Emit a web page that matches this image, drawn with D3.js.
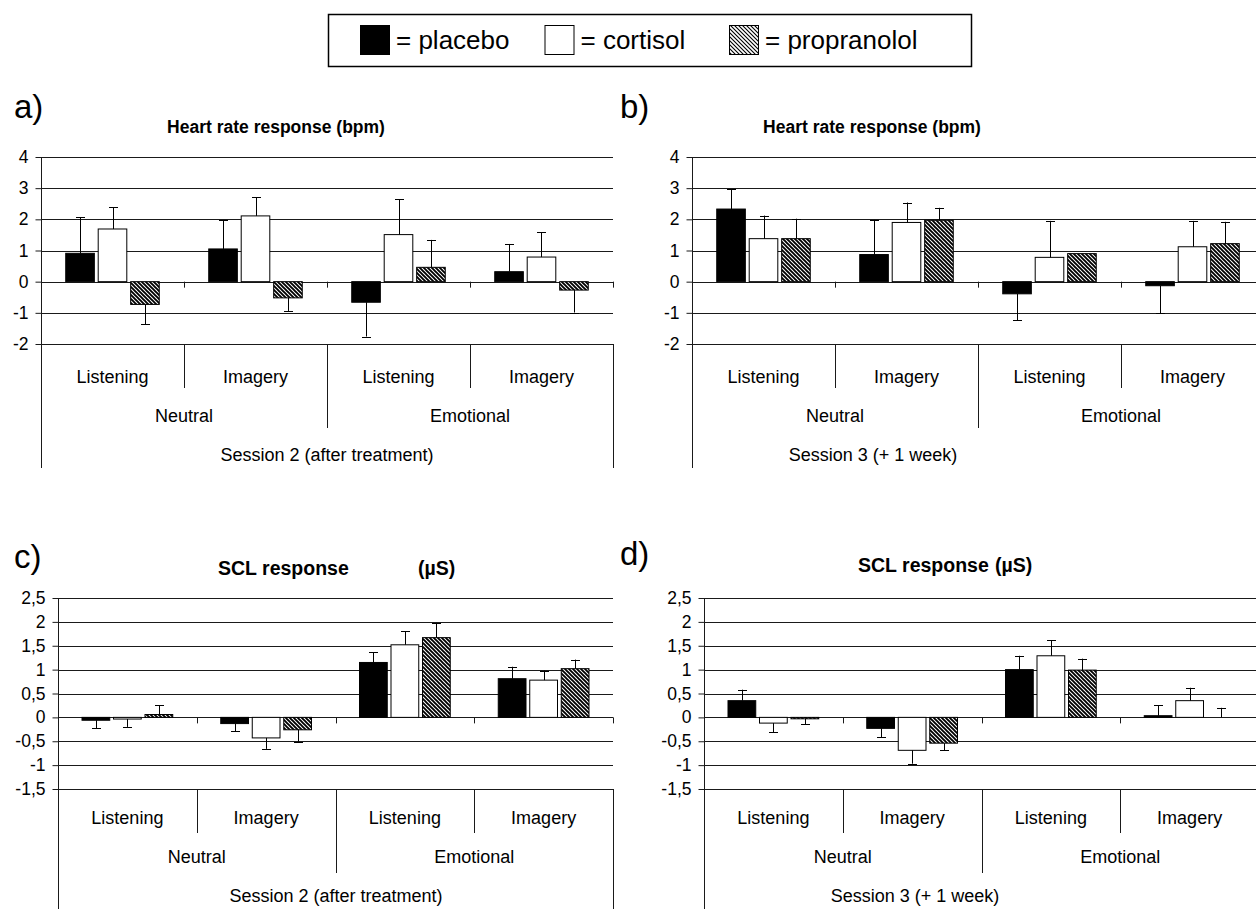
<!DOCTYPE html>
<html><head><meta charset="utf-8">
<script src="https://cdn.jsdelivr.net/npm/d3@7"></script>
<style>
body{margin:0;background:#fff}
svg text{font-family:"Liberation Sans",Arial,Helvetica,sans-serif;fill:#000}
</style>
</head><body>
<svg id="chart" width="1256" height="909"></svg>
<script>
// ---------- data ----------
const conditions = ["Listening", "Imagery", "Listening", "Imagery"];
const valences = ["Neutral", "Emotional"];
const treatments = ["placebo", "cortisol", "propranolol"];
const legendLabels = ["= placebo", "= cortisol", "= propranolol"];

const hrTicks = [-2, -1, 0, 1, 2, 3, 4];
const sclTicks = [-1.5, -1, -0.5, 0, 0.5, 1, 1.5, 2, 2.5];

// a) Heart rate, Session 2
const hrS2Placebo = [0.91, 1.05, -0.66, 0.32];
const hrS2Cortisol = [1.69, 2.11, 1.51, 0.79];
const hrS2Propranolol = [-0.73, -0.52, 0.46, -0.27];
const hrS2PlaceboErr = [1.16, 0.92, 1.10, 0.89];
const hrS2CortisolErr = [0.69, 0.60, 1.13, 0.80];
const hrS2PropranololErr = [0.64, 0.42, 0.88, 0.72];

// b) Heart rate, Session 3
const hrS3Placebo = [2.33, 0.87, -0.39, -0.13];
const hrS3Cortisol = [1.38, 1.90, 0.78, 1.12];
const hrS3Propranolol = [1.38, 1.97, 0.90, 1.22];
const hrS3PlaceboErr = [0.63, 1.11, 0.84, 0.89];
const hrS3CortisolErr = [0.74, 0.64, 1.17, 0.83];
const hrS3PropranololErr = [0.64, 0.40, 0, 0.70];

// c) SCL, Session 2
const sclS2Placebo = [-0.06, -0.13, 1.15, 0.81];
const sclS2Cortisol = [-0.035, -0.43, 1.52, 0.78];
const sclS2Propranolol = [0.06, -0.26, 1.67, 1.02];
const sclS2PlaceboErr = [0.17, 0.16, 0.21, 0.25];
const sclS2CortisolErr = [0.165, 0.23, 0.28, 0.20];
const sclS2PropranololErr = [0.19, 0.25, 0.31, 0.19];

// d) SCL, Session 3
const sclS3Placebo = [0.35, -0.23, 1.00, 0.035];
const sclS3Cortisol = [-0.12, -0.69, 1.29, 0.35];
const sclS3Propranolol = [-0.03, -0.54, 0.99, 0.0];
const sclS3PlaceboErr = [0.23, 0.19, 0.29, 0.215];
const sclS3CortisolErr = [0.19, 0.28, 0.32, 0.27];
const sclS3PropranololErr = [0.11, 0.15, 0.24, 0.20];

// ---------- panels ----------
const panels = [
  { letter: "a)", title: "Heart rate response (bpm)", unit: null, session: "Session 2 (after treatment)",
    values: [hrS2Placebo, hrS2Cortisol, hrS2Propranolol], errors: [hrS2PlaceboErr, hrS2CortisolErr, hrS2PropranololErr],
    ticks: hrTicks, domain: [-2, 4],
    L: { x0: 41, x1: 613, yTop: 157, yBot: 344, boxBot: 468, letterX: 14, letterY: 118, titleX: 276, titleY: 133, titleSize: 17.5,
         row1: 39, row2: 78, row3: 117, div1: 44, div2: 84, sessionX: 327 } },
  { letter: "b)", title: "Heart rate response (bpm)", unit: null, session: "Session 3 (+ 1 week)",
    values: [hrS3Placebo, hrS3Cortisol, hrS3Propranolol], errors: [hrS3PlaceboErr, hrS3CortisolErr, hrS3PropranololErr],
    ticks: hrTicks, domain: [-2, 4],
    L: { x0: 692, x1: 1264, yTop: 157, yBot: 344, boxBot: 468, letterX: 620, letterY: 118, titleX: 872, titleY: 133, titleSize: 17.5,
         row1: 39, row2: 78, row3: 117, div1: 44, div2: 84, sessionX: 873 } },
  { letter: "c)", title: "SCL response", unit: "(µS)", session: "Session 2 (after treatment)",
    values: [sclS2Placebo, sclS2Cortisol, sclS2Propranolol], errors: [sclS2PlaceboErr, sclS2CortisolErr, sclS2PropranololErr],
    ticks: sclTicks, domain: [-1.5, 2.5],
    L: { x0: 58, x1: 613, yTop: 598, yBot: 789, boxBot: 920, letterX: 14, letterY: 568, titleX: 218, titleY: 575, unitX: 418, titleSize: 19.5,
         row1: 35, row2: 74, row3: 113, div1: 44, div2: 84, sessionX: 336 } },
  { letter: "d)", title: "SCL response", unit: "(µS)", session: "Session 3 (+ 1 week)",
    values: [sclS3Placebo, sclS3Cortisol, sclS3Propranolol], errors: [sclS3PlaceboErr, sclS3CortisolErr, sclS3PropranololErr],
    ticks: sclTicks, domain: [-1.5, 2.5],
    L: { x0: 704, x1: 1259, yTop: 598, yBot: 789, boxBot: 920, letterX: 620, letterY: 565, titleX: 858, titleY: 572, unitX: 995, titleSize: 19.5,
         row1: 35, row2: 74, row3: 113, div1: 44, div2: 84, sessionX: 915 } }
];

const svg = d3.select("#chart");
const defs = svg.append("defs");
function makeHatch(id, sw) {
  const p = defs.append("pattern").attr("id", id).attr("patternUnits", "userSpaceOnUse")
    .attr("width", 4).attr("height", 4);
  p.append("rect").attr("width", 4).attr("height", 4).attr("fill", "#fff");
  p.append("path").attr("d", "M-1,-1L5,5M-1,3L1,5M3,-1L5,1")
    .attr("stroke", "#000").attr("stroke-width", sw).attr("fill", "none");
}
makeHatch("hatch", 1.9);
makeHatch("hatchLegend", 1.1);

const fills = ["#000", "#fff", "url(#hatch)"];
const fmt = d => String(d).replace(".", ",");
const lineColor = "#1a1a1a";

function drawPanel(p) {
  const L = p.L;
  const g = svg.append("g");
  const x = d3.scaleBand().domain(d3.range(conditions.length)).range([L.x0, L.x1]);
  const bw = x.bandwidth();
  const barW = bw * 0.2, gap = bw * 0.027;
  const clusterW = 3 * barW + 2 * gap;
  const xi = d3.scaleBand().domain(treatments).range([0, clusterW])
    .paddingInner(gap / (barW + gap)).paddingOuter(0);
  const off = (bw - clusterW) / 2;
  const y = d3.scaleLinear().domain(p.domain).range([L.yBot, L.yTop]);

  // gridlines
  g.append("g").selectAll("line").data(p.ticks).join("line")
    .attr("x1", L.x0).attr("x2", L.x1)
    .attr("y1", d => Math.round(y(d)) + 0.5).attr("y2", d => Math.round(y(d)) + 0.5)
    .attr("stroke", lineColor).attr("stroke-width", 1);

  // bars
  const barData = [];
  treatments.forEach((t, ti) => conditions.forEach((c, ci) => {
    barData.push({ ti, ci, v: p.values[ti][ci], e: p.errors[ti][ci] });
  }));
  g.append("g").selectAll("rect").data(barData).join("rect")
    .attr("x", d => x(d.ci) + off + xi(treatments[d.ti]))
    .attr("width", xi.bandwidth())
    .attr("y", d => y(Math.max(0, d.v)))
    .attr("height", d => Math.abs(y(d.v) - y(0)))
    .attr("fill", d => fills[d.ti])
    .attr("stroke", "#000").attr("stroke-width", 1);

  // error bars (one-sided, away from zero)
  const eb = g.append("g").attr("stroke", "#000").attr("stroke-width", 1);
  barData.filter(d => d.e > 0).forEach(d => {
    const cx = Math.round(x(d.ci) + off + xi(treatments[d.ti]) + xi.bandwidth() / 2) + 0.5;
    const end = d.v >= 0 ? d.v + d.e : d.v - d.e;
    eb.append("line").attr("x1", cx).attr("x2", cx).attr("y1", y(d.v)).attr("y2", y(end));
    eb.append("line").attr("x1", cx - 4.5).attr("x2", cx + 4.5).attr("y1", Math.round(y(end)) + 0.5).attr("y2", Math.round(y(end)) + 0.5);
  });

  // category axis at zero with ticks at band boundaries
  const bounds = d3.range(1, conditions.length + 1).map(i => L.x0 + i * bw);
  g.append("g").selectAll("line").data(bounds).join("line")
    .attr("x1", d => Math.round(d) + 0.5).attr("x2", d => Math.round(d) + 0.5)
    .attr("y1", y(0)).attr("y2", y(0) + 6)
    .attr("stroke", lineColor);

  // value axis
  const ax = g.append("g").attr("transform", `translate(${L.x0 + 0.5},0)`)
    .call(d3.axisLeft(y).tickValues(p.ticks).tickFormat(fmt).tickSize(6).tickSizeOuter(0).tickPadding(7));
  ax.select(".domain").remove();
  ax.selectAll(".tick line").attr("stroke", lineColor);
  ax.selectAll(".tick text").attr("font-size", 17.5).attr("font-family", "Liberation Sans, Arial, sans-serif").attr("fill", "#000");
  g.append("line").attr("x1", L.x0 + 0.5).attr("x2", L.x0 + 0.5).attr("y1", L.yTop).attr("y2", L.boxBot).attr("stroke", lineColor);

  // bottom label box
  g.append("line").attr("x1", L.x1 + 0.5).attr("x2", L.x1 + 0.5).attr("y1", L.yBot).attr("y2", L.boxBot).attr("stroke", lineColor);
  [1, 3].forEach(i => g.append("line").attr("x1", Math.round(x(i)) + 0.5).attr("x2", Math.round(x(i)) + 0.5)
    .attr("y1", L.yBot).attr("y2", L.yBot + L.div1).attr("stroke", lineColor));
  g.append("line").attr("x1", Math.round(x(2)) + 0.5).attr("x2", Math.round(x(2)) + 0.5)
    .attr("y1", L.yBot).attr("y2", L.yBot + L.div2).attr("stroke", lineColor);

  g.append("g").selectAll("text").data(conditions).join("text")
    .attr("x", (d, i) => x(i) + bw / 2).attr("y", L.yBot + L.row1)
    .attr("text-anchor", "middle").attr("font-size", 18).text(d => d);
  g.append("g").selectAll("text").data(valences).join("text")
    .attr("x", (d, i) => L.x0 + (i + 0.5) * bw * 2).attr("y", L.yBot + L.row2)
    .attr("text-anchor", "middle").attr("font-size", 18).text(d => d);
  g.append("text").attr("x", L.sessionX).attr("y", L.yBot + L.row3)
    .attr("text-anchor", "middle").attr("font-size", 18).text(p.session);

  // letter and title
  g.append("text").attr("x", L.letterX).attr("y", L.letterY).attr("font-size", 33).text(p.letter);
  if (p.unit) {
    g.append("text").attr("x", L.titleX).attr("y", L.titleY).attr("font-size", L.titleSize).attr("font-weight", "bold").text(p.title);
    g.append("text").attr("x", L.unitX).attr("y", L.titleY).attr("font-size", L.titleSize).attr("font-weight", "bold").text(p.unit);
  } else {
    g.append("text").attr("x", L.titleX).attr("y", L.titleY).attr("text-anchor", "middle")
      .attr("font-size", L.titleSize).attr("font-weight", "bold").text(p.title);
  }
}

panels.forEach(drawPanel);

// ---------- legend ----------
const lg = svg.append("g");
lg.append("rect").attr("x", 328.5).attr("y", 14.5).attr("width", 643).attr("height", 52)
  .attr("fill", "#fff").attr("stroke", "#000").attr("stroke-width", 1.5);
const legendFills = ["#000", "#fff", "url(#hatchLegend)"];
const legendX = d3.scalePoint().domain(treatments).range([360, 729]);
const li = lg.selectAll("g.item").data(treatments).join("g").attr("class", "item")
  .attr("transform", d => `translate(${legendX(d)},0)`);
li.append("rect").attr("x", 0.5).attr("y", 25.5).attr("width", 29).attr("height", 29)
  .attr("fill", (d, i) => legendFills[i]).attr("stroke", "#000").attr("stroke-width", 1);
li.append("text").attr("x", 36).attr("y", 49).attr("font-size", 26).text((d, i) => legendLabels[i]);
</script>
</body></html>
